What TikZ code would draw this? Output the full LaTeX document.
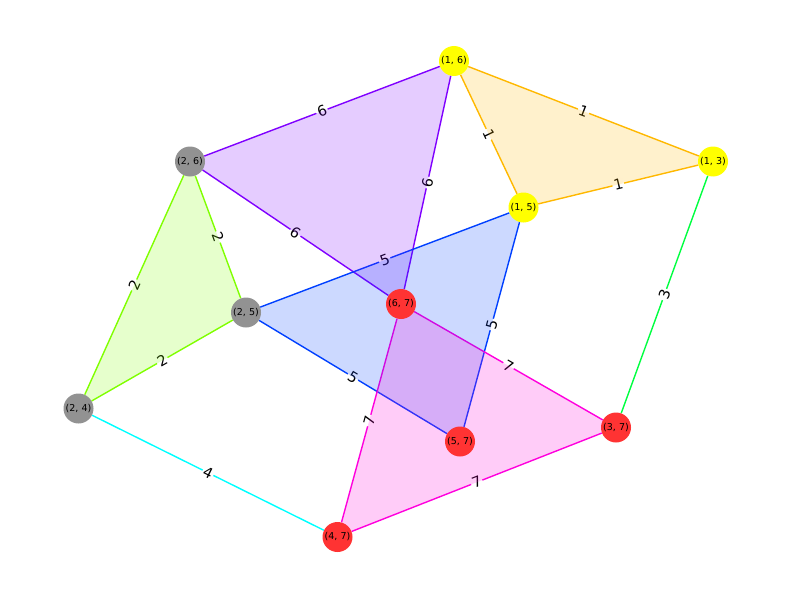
\documentclass[tikz,border=0pt]{standalone}
\usepackage{fontspec}
\setmainfont{DejaVu Sans}
\usetikzlibrary{backgrounds}
\definecolor{gold}{HTML}{FFB800}
\definecolor{violet}{HTML}{7F00FF}
\definecolor{lime}{HTML}{80FF00}
\definecolor{azure}{HTML}{0040FF}
\definecolor{pink}{HTML}{FF00DD}
\definecolor{aqua}{HTML}{00FFFF}
\definecolor{spring}{HTML}{00FF40}
\definecolor{nodegray}{HTML}{929292}
\definecolor{nodered}{HTML}{FF3333}
\definecolor{nodeyellow}{HTML}{FFFF00}
\tikzset{
  vtx/.style={
    circle,inner sep=0pt,minimum size=30pt,
    font=\fontsize{9.5}{11}\selectfont
  },
  yellowvtx/.style={vtx,fill=nodeyellow},
  grayvtx/.style={vtx,fill=nodegray},
  redvtx/.style={vtx,fill=nodered},
  link/.style={line width=1.4pt},
  wt/.style={
    sloped,fill=white,text=black,rounded corners=2pt,inner sep=1.3pt,
    font=\fontsize{14.5}{17}\selectfont
  },
  tint/.style={fill opacity=.2}
}

\begin{document}
\begin{tikzpicture}[x=1pt,y=-1pt]
\useasboundingbox (0,0) rectangle (792,599);
% vertices
\node[yellowvtx] (n16) at (454,61) {(1, 6)};
\node[yellowvtx] (n13) at (713,161.5) {(1, 3)};
\node[yellowvtx] (n15) at (523.5,207.5) {(1, 5)};
\node[grayvtx] (n26) at (190,161.5) {(2, 6)};
\node[grayvtx] (n25) at (246,312.5) {(2, 5)};
\node[grayvtx] (n24) at (78.5,408.5) {(2, 4)};
\node[redvtx] (n67) at (401,304) {(6, 7)};
\node[redvtx] (n57) at (460,441.5) {(5, 7)};
\node[redvtx] (n37) at (616,427.5) {(3, 7)};
\node[redvtx] (n47) at (337.5,537) {(4, 7)};

\begin{scope}[on background layer]
% edges with weights
\draw[link,gold] (n16) -- node[wt]{1} (n13);
\draw[link,gold] (n16) -- node[wt]{1} (n15);
\draw[link,gold] (n15) -- node[wt]{1} (n13);
\draw[link,violet] (n26) -- node[wt]{6} (n16);
\draw[link,violet] (n16) -- node[wt]{6} (n67);
\draw[link,violet] (n26) -- node[wt]{6} (n67);
\draw[link,lime] (n26) -- node[wt]{2} (n25);
\draw[link,lime] (n26) -- node[wt]{2} (n24);
\draw[link,lime] (n25) -- node[wt]{2} (n24);
\draw[link,azure] (n25) -- node[wt]{5} (n15);
\draw[link,azure] (n15) -- node[wt]{5} (n57);
\draw[link,azure] (n25) -- node[wt]{5} (n57);
\draw[link,pink] (n67) -- node[wt]{7} (n37);
\draw[link,pink] (n67) -- node[wt]{7} (n47);
\draw[link,pink] (n47) -- node[wt]{7} (n37);
\draw[link,aqua] (n24) -- node[wt]{4} (n47);
\draw[link,spring] (n13) -- node[wt]{3} (n37);
% shaded triangles
\fill[gold,tint] (n16.center) -- (n13.center) -- (n15.center) -- cycle;
\fill[violet,tint] (n26.center) -- (n16.center) -- (n67.center) -- cycle;
\fill[lime,tint] (n26.center) -- (n25.center) -- (n24.center) -- cycle;
\fill[azure,tint] (n25.center) -- (n15.center) -- (n57.center) -- cycle;
\fill[pink,tint] (n67.center) -- (n37.center) -- (n47.center) -- cycle;
\end{scope}
\end{tikzpicture}
\end{document}
